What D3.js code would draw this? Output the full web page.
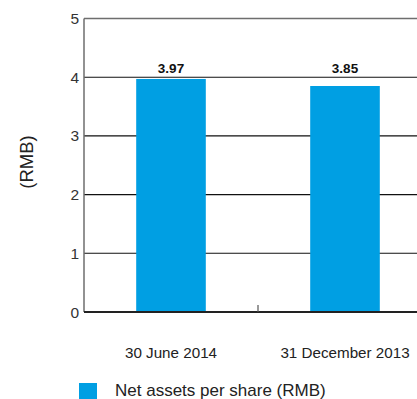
<!DOCTYPE html>
<html>
<head>
<meta charset="utf-8">
<script src="https://cdn.jsdelivr.net/npm/d3@7"></script>
<style>
  html, body { margin: 0; padding: 0; background: #fff; }
  svg { display: block; font-family: "Liberation Sans", Arial, sans-serif; }
</style>
</head>
<body>
<svg id="chart" width="417" height="399"></svg>
<script>
// Net assets per share (RMB)
const categories = ["30 June 2014", "31 December 2013"];
const values = [3.97, 3.85];
const valueLabels = ["3.97", "3.85"];
const yTicks = [0, 1, 2, 3, 4, 5];
const seriesName = "Net assets per share (RMB)";
const axisTitle = "(RMB)";

const svg = d3.select("#chart");
const barColor = "#009FE3";

const x = d3.scaleBand()
  .domain(categories)
  .range([84, 432])
  .paddingInner(0.6)
  .paddingOuter(0.3);

const y = d3.scaleLinear().domain([0, 5]).range([312, 18.5]);

// horizontal grid lines
svg.append("g")
  .selectAll("line")
  .data(yTicks.filter(d => d > 0))
  .join("line")
  .attr("x1", 84).attr("x2", 417)
  .attr("y1", d => y(d)).attr("y2", d => y(d))
  .attr("stroke", d => d === 5 ? "#6e6e6e" : "#111")
  .attr("stroke-width", d => d === 5 ? 1.5 : 1.1);

// bars
svg.append("g")
  .selectAll("rect")
  .data(values)
  .join("rect")
  .attr("x", (d, i) => x(categories[i]))
  .attr("width", x.bandwidth())
  .attr("y", d => y(d))
  .attr("height", d => y(0) - y(d))
  .attr("fill", barColor);

// left axis line
svg.append("line")
  .attr("x1", 84).attr("x2", 84)
  .attr("y1", y(5)).attr("y2", y(0))
  .attr("stroke", "#6e6e6e").attr("stroke-width", 1.5);

// baseline
svg.append("line")
  .attr("x1", 84).attr("x2", 417)
  .attr("y1", y(0)).attr("y2", y(0))
  .attr("stroke", "#222").attr("stroke-width", 2);

// tick between categories
const midX = (x(categories[0]) + x.bandwidth() + x(categories[1])) / 2;
svg.append("line")
  .attr("x1", midX).attr("x2", midX)
  .attr("y1", y(0) - 7).attr("y2", y(0))
  .attr("stroke", "#555").attr("stroke-width", 1.2);

// y tick labels
svg.append("g")
  .selectAll("text")
  .data(yTicks)
  .join("text")
  .attr("x", 79)
  .attr("y", d => y(d))
  .attr("dy", "0.36em")
  .attr("text-anchor", "end")
  .attr("font-size", 15.5)
  .attr("fill", "#333")
  .text(d => d);

// value labels
svg.append("g")
  .selectAll("text")
  .data(values)
  .join("text")
  .attr("x", (d, i) => x(categories[i]) + x.bandwidth() / 2)
  .attr("y", y(4) - 4)
  .attr("text-anchor", "middle")
  .attr("font-size", 13.5)
  .attr("font-weight", "bold")
  .attr("fill", "#111")
  .text((d, i) => valueLabels[i]);

// category labels
svg.append("g")
  .selectAll("text")
  .data(categories)
  .join("text")
  .attr("x", d => x(d) + x.bandwidth() / 2)
  .attr("y", 358)
  .attr("text-anchor", "middle")
  .attr("font-size", 15.2)
  .attr("fill", "#222")
  .text(d => d);

// axis title
svg.append("text")
  .attr("transform", "translate(33,162) rotate(-90)")
  .attr("text-anchor", "middle")
  .attr("font-size", 18.5)
  .attr("fill", "#222")
  .text(axisTitle);

// legend
svg.append("rect")
  .attr("x", 79).attr("y", 383)
  .attr("width", 18).attr("height", 18)
  .attr("fill", barColor);
svg.append("text")
  .attr("x", 115).attr("y", 396)
  .attr("font-size", 17)
  .attr("fill", "#222")
  .text(seriesName);
</script>
</body>
</html>
